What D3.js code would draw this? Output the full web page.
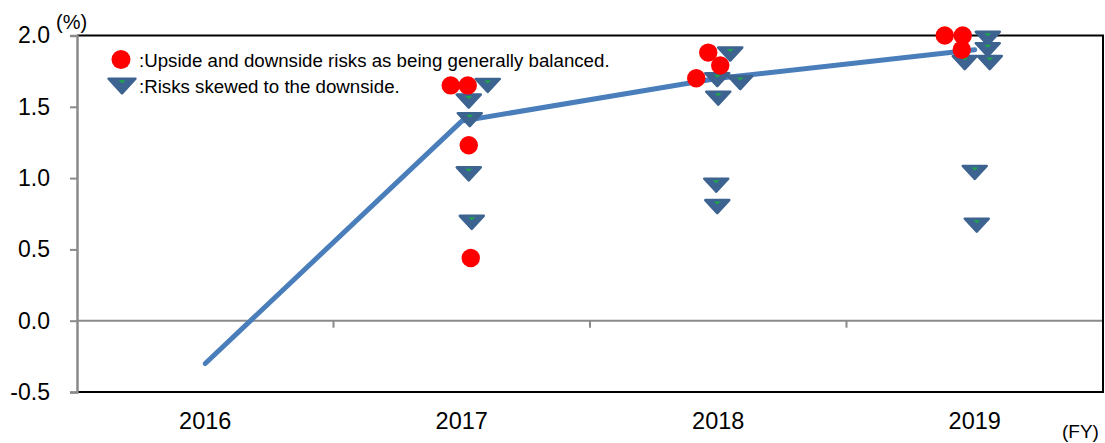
<!DOCTYPE html>
<html><head><meta charset="utf-8">
<script src="https://cdn.jsdelivr.net/npm/d3@7"></script>
<style>
body{margin:0;background:#fff}
svg{display:block}
text{font-family:Arial,"Liberation Sans",sans-serif;fill:#000}
</style></head>
<body><svg id="c" width="1105" height="443"></svg>
<script>
// ---- data ----
const years = ["2016", "2017", "2018", "2019"];
const medianValues = [-0.3, 1.4, 1.7, 1.9];
const yTicks = [-0.5, 0.0, 0.5, 1.0, 1.5, 2.0];

const balancedYears  = ["2017","2017","2017","2017","2018","2018","2018","2019","2019","2019"];
const balancedValues = [1.65, 1.65, 1.23, 0.44, 1.88, 1.79, 1.70, 2.00, 2.00, 1.90];
const balancedDodge  = [-1.1, 0.6, 0.7, 0.9, -1.0, 0.2, -2.2, -3.0, -1.2, -1.3];

const downsideYears  = ["2017","2017","2017","2017","2017","2018","2018","2018","2018","2018","2018","2019","2019","2019","2019","2019","2019"];
const downsideValues = [1.65, 1.54, 1.41, 1.03, 0.69, 1.87, 1.69, 1.67, 1.56, 0.95, 0.80, 1.98, 1.90, 1.81, 1.81, 1.04, 0.67];
const downsideDodge  = [2.6, 0.7, 0.8, 0.7, 1.0, 1.2, -0.1, 2.2, 0.0, -0.2, -0.1, 1.3, 1.3, -1.0, 1.5, 0.0, 0.2];

const legendLabels = [":Upside and downside risks as being generally balanced.", ":Risks skewed to the downside."];

// ---- layout ----
const svg = d3.select("#c");
const L = 77, R = 1103, T = 35.5, B = 392;
const dodgeUnit = 10;

const x = d3.scaleBand().domain(years).range([L, R]);
const y = d3.scaleLinear().domain([-0.5, 2.0]).range([B, T]);
const cx = d => x(d) + x.bandwidth() / 2;

// zero line
svg.append("line").attr("x1", L).attr("x2", R).attr("y1", y(0)).attr("y2", y(0))
  .attr("stroke", "#8a8a8a").attr("stroke-width", 2);
// category separator ticks on zero line
years.slice(1).forEach(yr => {
  svg.append("line").attr("x1", x(yr)).attr("x2", x(yr)).attr("y1", y(0)).attr("y2", y(0) + 7)
    .attr("stroke", "#8a8a8a").attr("stroke-width", 2);
});

// frame: top, right, bottom black
svg.append("path").attr("d", `M${L},${T}H${R}V${B}H${L}`).attr("fill", "none")
  .attr("stroke", "#000").attr("stroke-width", 2);

// left axis
const yAxis = d3.axisLeft(y).tickValues(yTicks).tickSize(7).tickPadding(20);
const ga = svg.append("g").attr("transform", `translate(${L},0)`).call(yAxis);
ga.select(".domain").attr("stroke", "#8a8a8a").attr("stroke-width", 2.5);
ga.selectAll(".tick line").attr("stroke", "#8a8a8a").attr("stroke-width", 2);
ga.selectAll(".tick text").attr("font-size", 23).attr("fill", "#000")
  .text(d => d < 0 ? "-" + Math.abs(d).toFixed(1) : d.toFixed(1));

// x labels
svg.append("g").selectAll("text").data(years).join("text")
  .attr("x", d => cx(d)).attr("y", 429).attr("text-anchor", "middle")
  .attr("font-size", 23.5).text(d => d);

// unit labels
svg.append("text").attr("x", 56).attr("y", 29).attr("font-size", 20).text("(%)");
svg.append("text").attr("x", 1062).attr("y", 438).attr("font-size", 19).text("(FY)");

// median line
const line = d3.line().x((d, i) => cx(years[i])).y(d => y(d));
svg.append("path").datum(medianValues).attr("d", line)
  .attr("fill", "none").attr("stroke", "#4a7ebb").attr("stroke-width", 5).attr("stroke-linecap", "round");

// triangle marker
function tri(g, px, py, s) {
  const w = 12 * s, h = 6.5 * s;
  g.append("path").attr("d", `M${px - w},${py - h}L${px + w},${py - h}L${px},${py + h}Z`)
    .attr("fill", "#3d6391").attr("stroke", "#3d6391").attr("stroke-width", 2.5).attr("stroke-linejoin", "round");
  g.append("path").attr("d", `M${px - 3.5},${py - h + 1.5}L${px + 3.5},${py - h + 1.5}L${px},${py - h + 4.5}Z`)
    .attr("fill", "#1fa64a");
}

const gT = svg.append("g");
downsideValues.forEach((v, i) => tri(gT, cx(downsideYears[i]) + downsideDodge[i] * dodgeUnit, y(v), 1));

const gC = svg.append("g");
gC.selectAll("circle").data(balancedValues).join("circle")
  .attr("cx", (d, i) => cx(balancedYears[i]) + balancedDodge[i] * dodgeUnit)
  .attr("cy", d => y(d)).attr("r", 9.2).attr("fill", "#ff0000");

// legend
svg.append("circle").attr("cx", 121).attr("cy", 59.5).attr("r", 9.5).attr("fill", "#ff0000");
tri(svg, 122, 86, 1.12);
svg.append("text").attr("x", 139).attr("y", 67).attr("font-size", 18.7).text(legendLabels[0]);
svg.append("text").attr("x", 139).attr("y", 93).attr("font-size", 18.7).text(legendLabels[1]);
</script>
</body></html>
